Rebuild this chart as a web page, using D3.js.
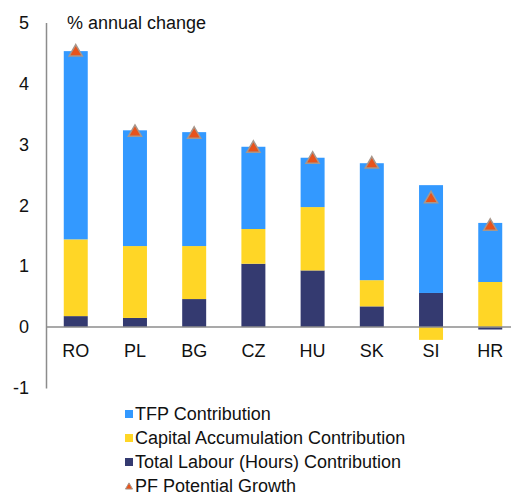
<!DOCTYPE html>
<html>
<head>
<meta charset="utf-8">
<script src="https://cdn.jsdelivr.net/npm/d3@7"></script>
<style>
  body { margin: 0; background: #fff; }
  svg { font-family: "Liberation Sans", Arial, sans-serif; }
</style>
</head>
<body>
<svg id="chart" width="511" height="494"></svg>
<script>
// countries, left to right
var countries = ['RO', 'PL', 'BG', 'CZ', 'HU', 'SK', 'SI', 'HR'];
// contributions, % annual change
var labour  = [0.18, 0.15, 0.46, 1.04, 0.93, 0.34, 0.56, -0.04];
var capital = [1.26, 1.18, 0.87, 0.57, 1.04, 0.43, -0.21, 0.74];
var tfp     = [3.09, 1.90, 1.87, 1.35, 0.81, 1.92, 1.77, 0.97];
var potential = [4.53, 3.21, 3.18, 2.95, 2.77, 2.69, 2.12, 1.67];
var yTicks = [-1, 0, 1, 2, 3, 4, 5];

var series_colors = ['#343a70', '#ffd626', '#3399ff'];
var series_data = [labour, capital, tfp];

var svg = d3.select("#chart");

var x = d3.scaleBand().domain(countries).range([46, 520]).paddingInner(0.595).paddingOuter(0.3);
var y = d3.scaleLinear().domain([-1, 5]).range([388, 22.5]);

// stack positives up and negatives down from zero
var pos = countries.map(function(){ return 0; });
var neg = countries.map(function(){ return 0; });
var bars = svg.append("g");
for (var s = 0; s < series_data.length; s++){
    for (var i = 0; i < countries.length; i++){
        var v = series_data[s][i];
        var y0, y1;
        if (v >= 0){ y0 = pos[i]; y1 = pos[i] + v; pos[i] = y1; }
        else { y0 = neg[i] + v; y1 = neg[i]; neg[i] = y0; }
        bars.append("rect")
            .attr("x", x(countries[i]))
            .attr("width", x.bandwidth())
            .attr("y", y(y1))
            .attr("height", y(y0) - y(y1))
            .attr("fill", series_colors[s]);
    }
}

// axes
var yAxis = d3.axisLeft(y).tickValues(yTicks).tickSize(0).tickPadding(17)
    .tickFormat(function(d){ return String(d); });
var gy = svg.append("g").attr("transform", "translate(46,0)").call(yAxis);
gy.select(".domain").attr("stroke", "#8c8c8c").attr("stroke-width", 1.5);
gy.selectAll("text").style("font-size", "18px").attr("fill", "#111")
    .attr("font-family", "Liberation Sans, Arial, sans-serif");

svg.append("line")
    .attr("x1", 46).attr("x2", 511)
    .attr("y1", y(0)).attr("y2", y(0))
    .attr("stroke", "#8c8c8c").attr("stroke-width", 1.5);

svg.append("g").selectAll("text").data(countries).enter().append("text")
    .attr("x", function(d){ return x(d) + x.bandwidth() / 2; })
    .attr("y", y(0) + 30)
    .attr("text-anchor", "middle")
    .style("font-size", "18px")
    .attr("fill", "#111")
    .text(function(d){ return d; });

// potential growth triangles
var tri = d3.symbol().type(d3.symbolTriangle).size(75);
svg.append("g").selectAll("path").data(potential).enter().append("path")
    .attr("d", tri)
    .attr("transform", function(d, i){
        return "translate(" + (x(countries[i]) + x.bandwidth() / 2) + "," + (y(d) + 1) + ")";
    })
    .attr("fill", "#e8531b")
    .attr("stroke", "#a8978c")
    .attr("stroke-width", 1.5);

svg.append("text")
    .attr("x", 67).attr("y", 29)
    .style("font-size", "18px")
    .attr("fill", "#111")
    .text("% annual change");

// legend
var legend_items = [
    {name: 'TFP Contribution', color: '#3399ff', type: 'rect'},
    {name: 'Capital Accumulation Contribution', color: '#ffd626', type: 'rect'},
    {name: 'Total Labour (Hours) Contribution', color: '#343a70', type: 'rect'},
    {name: 'PF Potential Growth', color: '#e8531b', type: 'tri'}
];
var lg = svg.append("g");
legend_items.forEach(function(d, i){
    var cy = 414 + i * 24;
    if (d.type == 'rect'){
        lg.append("rect").attr("x", 125).attr("y", cy - 4).attr("width", 8).attr("height", 8).attr("fill", d.color);
    }
    else {
        lg.append("path").attr("d", d3.symbol().type(d3.symbolTriangle).size(22))
            .attr("transform", "translate(129," + (cy + 1) + ")")
            .attr("fill", d.color).attr("stroke", "#a8978c").attr("stroke-width", 1);
    }
    lg.append("text").attr("x", 135).attr("y", cy + 6)
        .style("font-size", "18px").attr("fill", "#111").text(d.name);
});
</script>
</body>
</html>
